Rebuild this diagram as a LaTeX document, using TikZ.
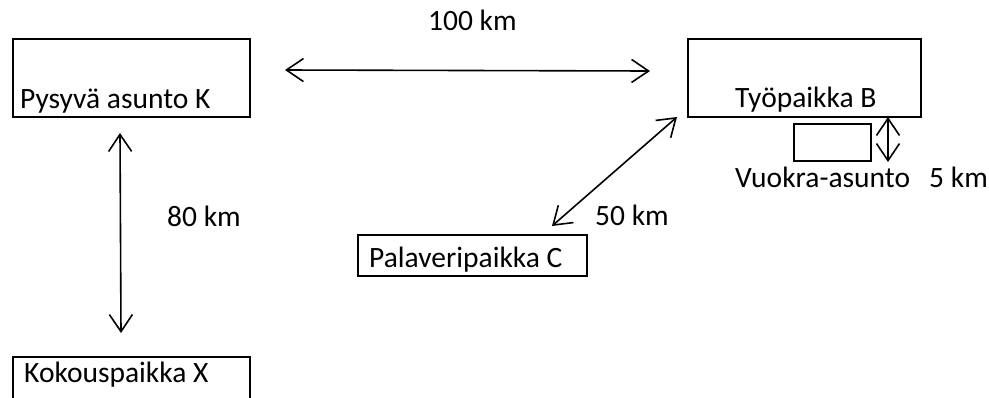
\documentclass[tikz,border=0pt]{standalone}
\usepackage{fontspec}
\setmainfont{Carlito}
\usetikzlibrary{arrows.meta}
\begin{document}
\begin{tikzpicture}[x=1pt,y=-1pt,
  box/.style={draw=black, line width=2pt, inner sep=0pt, anchor=north west},
  lbl/.style={anchor=base west, inner sep=0pt, font=\fontsize{29.5}{35}\selectfont},
  dbl/.style={line width=1.6pt, {Straight Barb[length=17pt,width=23pt,line width=1.6pt]}-{Straight Barb[length=17pt,width=23pt,line width=1.6pt]}}]
\useasboundingbox (0,0) rectangle (989,397);
\clip (0,0) rectangle (989,397);
% boxes
\node[box, minimum width=237pt, minimum height=78pt] (K) at (12,38) {};
\node[box, minimum width=233pt, minimum height=78pt] (B) at (687,38) {};
\node[box, minimum width=77pt, minimum height=37pt] (V) at (793,123) {};
\node[box, minimum width=229pt, minimum height=41pt] (C) at (357,234) {};
\node[box, minimum width=237pt, minimum height=60pt] (X) at (12,356) {};
% texts
\node[lbl] (tK) at (20,108) {Pysyvä asunto K};
\node[lbl] (tB) at (735,107) {Työpaikka B};
\node[lbl] (tV) at (735,187) {Vuokra-asunto};
\node[lbl] (t5) at (929,187) {5 km};
\node[lbl] (tC) at (369,267) {Palaveripaikka C};
\node[lbl] (tX) at (24,382) {Kokouspaikka X};
\node[lbl] (t100) at (428,30) {100 km};
\node[lbl] (t80) at (167,226) {80 km};
\node[lbl] (t50) at (595,225) {50 km};
% connector ends
\coordinate (kb1) at (285,70);
\coordinate (kb2) at (650,71);
\coordinate (kx1) at (120,133);
\coordinate (kx2) at (121,333);
\coordinate (cb1) at (552,226);
\coordinate (cb2) at (677,117);
\coordinate (bv1) at (888,117);
\coordinate (bv2) at (888,162);
% connectors
\draw[dbl] (kb1) -- (kb2);
\draw[dbl] (kx1) -- (kx2);
\draw[dbl] (cb1) -- (cb2);
\draw[dbl] (bv1) -- (bv2);
\end{tikzpicture}
\end{document}
